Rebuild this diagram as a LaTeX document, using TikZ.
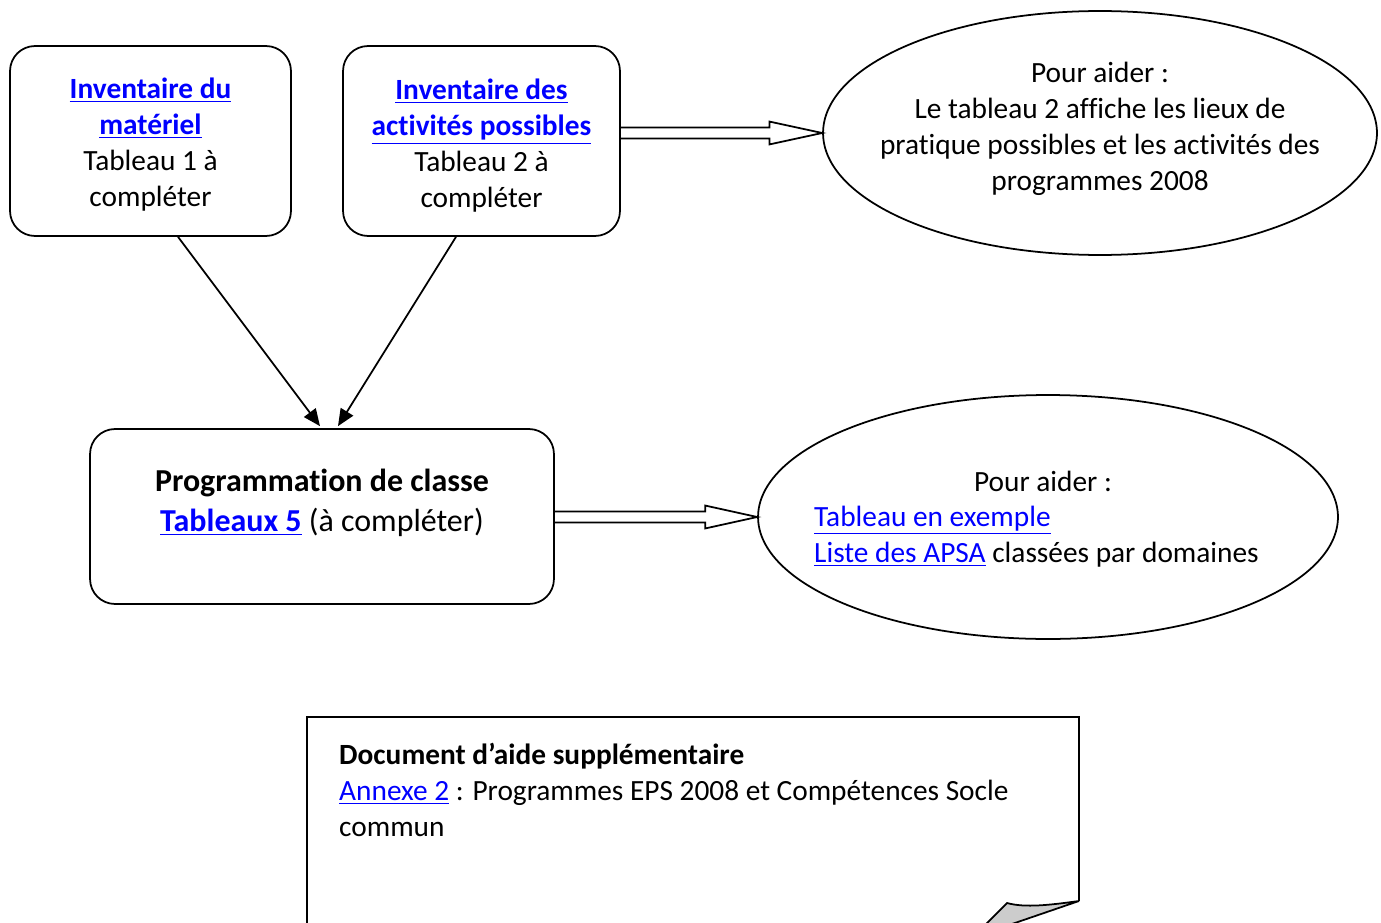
\documentclass[tikz,border=0pt]{standalone}
\usepackage{fontspec}
\setmainfont[Ligatures=NoCommon]{Carlito}
\usetikzlibrary{shapes.geometric}
\usetikzlibrary{arrows.meta}
\usetikzlibrary{calc}
\definecolor{lienbleu}{RGB}{0,0,255}
\definecolor{coin}{RGB}{204,204,204}
\newcommand{\lien}[1]{\textcolor{lienbleu}{\underline{#1}}}
\tikzset{
  boite/.style={rectangle,draw,rounded corners=0.5cm,line width=1pt,align=center},
  ovale/.style={ellipse,draw,line width=1pt,inner sep=0pt},
  fleche/.style={-{Triangle[length=0.34cm,width=0.29cm]},line width=1pt},
  creuse/.style={line width=1pt,line join=miter},
}

\begin{document}
\begin{tikzpicture}[x=0.02cm,y=-0.02cm,font=\fontsize{16.7}{20.5}\selectfont]
        \clip (0,0) rectangle (1381,922);

        \node[boite,minimum width=5.62cm,minimum height=3.8cm] (B1) at (150.5,141) {};
        \node[align=center] (TB1) at (150.5,145)
            {\textbf{\lien{Inventaire du}}\\\textbf{\lien{matériel}}\\Tableau 1 à\\compléter};
        \node[boite,minimum width=5.54cm,minimum height=3.8cm] (B2) at (481.5,141) {};
        \node[align=center] (TB2) at (481.5,146)
            {\textbf{\lien{Inventaire des}}\\\textbf{\lien{activités possibles}}\\Tableau 2 à\\compléter};
        \node[boite,minimum width=9.28cm,minimum height=3.5cm] (B3) at (322,516.5) {};
        \node[align=center,font=\fontsize{18.2}{22.4}\selectfont] (TB3) at (322,503)
            {\textbf{Programmation de classe}\\\textbf{\lien{Tableaux 5}} (à compléter)};

        \node[ovale,minimum width=11.08cm,minimum height=4.88cm] (E1) at (1100,133) {};
        \node[align=center] (TE1) at (1100,129)
            {Pour aider :\\Le tableau 2 affiche les lieux de\\pratique possibles et les activités des\\programmes 2008};
        \node[ovale,minimum width=11.6cm,minimum height=4.88cm] (E2) at (1048,517) {};
        \node (TE2a) at (1043,481) {Pour aider :};
        \node[align=left,anchor=north west] (TE2b) at (808,500)
            {\lien{Tableau en exemple}\\\lien{Liste des APSA} classées par domaines};

        \draw[fleche] ($(B1.south)+(27.5,0)$) -- ($(B3.north)+(-2,-2)$);
        \draw[fleche] ($(B2.south)+(-25.5,0)$) -- ($(B3.north)+(16,-2)$);

        \draw[creuse] let \p1=(B2.east), \p2=(E1.west) in
            (\x1,\y2+3.1pt) -- (\x2-30pt,\y2+3.1pt) -- (\x2-30pt,\y2+6.5pt) -- (\p2)
            -- (\x2-30pt,\y2-6.5pt) -- (\x2-30pt,\y2-3.1pt) -- (\x1,\y2-3.1pt);
        \draw[creuse] let \p1=(B3.east), \p2=(E2.west) in
            (\x1,\y2+3.1pt) -- (\x2-29.5pt,\y2+3.1pt) -- (\x2-29.5pt,\y2+6.5pt) -- (\p2)
            -- (\x2-29.5pt,\y2-6.5pt) -- (\x2-29.5pt,\y2-3.1pt) -- (\x1,\y2-3.1pt);

        \draw[line width=1pt] (307,930) -- (307,717) -- (1079,717) -- (1079,901);
        \filldraw[fill=coin,line width=1pt] (1007,903) .. controls (1025,908) and (1050,905) .. (1079,901)
            -- (1009,925) -- (985,925) -- cycle;
        \node[align=left,anchor=north west] (D) at (333,737)
            {\textbf{Document d’aide supplémentaire}\\\lien{Annexe 2} : Programmes EPS 2008 et Compétences Socle\\commun};

    \end{tikzpicture}
\end{document}
